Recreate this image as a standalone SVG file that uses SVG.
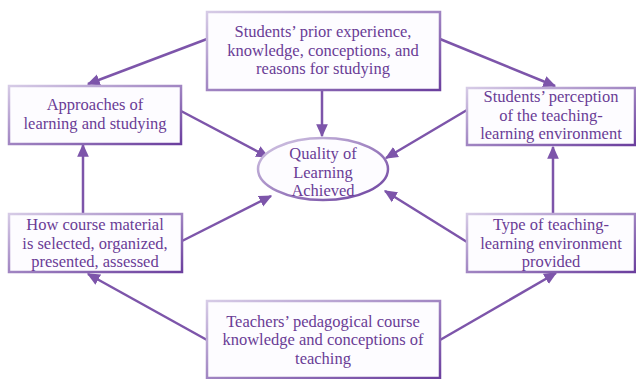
<svg xmlns="http://www.w3.org/2000/svg" width="636" height="379" viewBox="0 0 636 379">
<defs>
<linearGradient id="bd" x1="0" y1="0" x2="1" y2="1">
<stop offset="0" stop-color="#d6cbe6"/>
<stop offset="1" stop-color="#6b3f9e"/>
</linearGradient>
<marker id="a" viewBox="0 0 10 10" refX="9" refY="5" markerWidth="13" markerHeight="13" orient="auto" markerUnits="userSpaceOnUse">
<path d="M0,0.5 L10,5 L0,9.5 z" fill="#7d55aa"/>
</marker>
</defs>
<style>
.box{fill:#fdfcff;stroke:url(#bd);stroke-width:2.5}
.t{font-family:"Liberation Serif","DejaVu Serif",serif;font-size:16.5px;fill:#6a3d96;text-anchor:middle}
.c{stroke:#7d55aa;stroke-width:2.5;fill:none;marker-end:url(#a)}
</style>
<g id="connectors">
<line class="c" x1="207" y1="39" x2="88" y2="84"/>
<line class="c" x1="440" y1="39" x2="555" y2="86"/>
<line class="c" x1="322" y1="90" x2="322" y2="136"/>
<line class="c" x1="181" y1="111" x2="268" y2="157"/>
<line class="c" x1="467" y1="110" x2="386" y2="158"/>
<line class="c" x1="207" y1="340" x2="88" y2="274"/>
<line class="c" x1="83" y1="214" x2="83" y2="145"/>
<line class="c" x1="182" y1="241" x2="271" y2="196"/>
<line class="c" x1="467" y1="242" x2="385" y2="191"/>
<line class="c" x1="553" y1="214" x2="553" y2="147"/>
<line class="c" x1="440" y1="340" x2="556" y2="273"/>
</g>
<g id="prior">
<rect class="box" x="207" y="12" width="233" height="78"/>
<text class="t" x="323" y="37">Students’ prior experience,</text>
<text class="t" x="323" y="55.5">knowledge, conceptions, and</text>
<text class="t" x="323" y="74">reasons for studying</text>
</g>
<g id="approaches">
<rect class="box" x="9" y="86" width="172" height="58"/>
<text class="t" x="95" y="110">Approaches of</text>
<text class="t" x="95" y="128.5">learning and studying</text>
</g>
<g id="perception">
<rect class="box" x="467" y="88" width="168" height="57"/>
<text class="t" x="551" y="102">Students’ perception</text>
<text class="t" x="551" y="120.5">of the teaching-</text>
<text class="t" x="551" y="139">learning environment</text>
</g>
<g id="quality">
<ellipse cx="323" cy="169" rx="65" ry="31" fill="#fdfcff" stroke="url(#bd)" stroke-width="2.5"/>
<text class="t" x="323" y="159">Quality of</text>
<text class="t" x="323" y="177.5">Learning</text>
<text class="t" x="323" y="196">Achieved</text>
</g>
<g id="material">
<rect class="box" x="9" y="214" width="173" height="58"/>
<text class="t" x="95" y="230">How course material</text>
<text class="t" x="95" y="248.5">is selected, organized,</text>
<text class="t" x="95" y="267">presented, assessed</text>
</g>
<g id="environment">
<rect class="box" x="467" y="214" width="168" height="58"/>
<text class="t" x="551" y="230">Type of teaching-</text>
<text class="t" x="551" y="248.5">learning environment</text>
<text class="t" x="551" y="267">provided</text>
</g>
<g id="teachers">
<rect class="box" x="207" y="301" width="233" height="77"/>
<text class="t" x="323" y="326.5">Teachers’ pedagogical course</text>
<text class="t" x="323" y="345">knowledge and conceptions of</text>
<text class="t" x="323" y="363.5">teaching</text>
</g>
</svg>
